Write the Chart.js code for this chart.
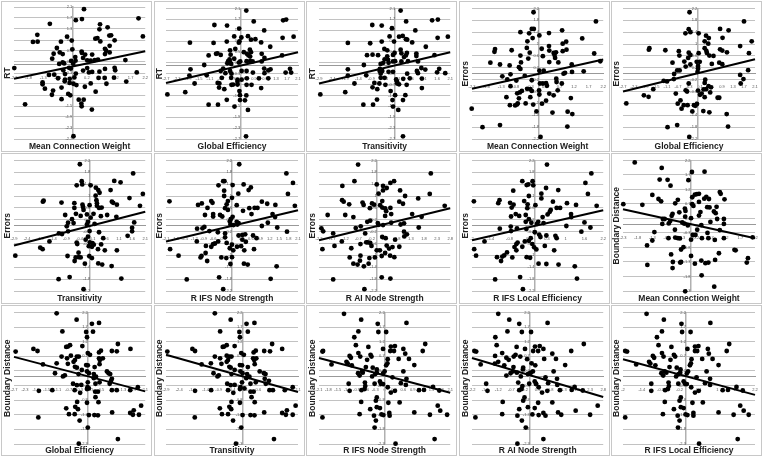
<!DOCTYPE html>
<html>
<head>
<meta charset="utf-8">
<script src="https://cdn.jsdelivr.net/npm/chart.js@4"></script>
<style>
html, body { margin: 0; background: #fff; }
#page { position: relative; width: 765px; height: 460px; overflow: hidden; }
.panel { position: absolute; box-sizing: border-box; width: 151px; height: 151px; border: 1px solid #c8c8c8; }
</style>
</head>
<body>
<div id="page"></div>
<script>
// tick ranges: [min, max, step]
const xMeanWeight = [-2.3, 2.2, 0.5];
const xGlobalEff = [-2.7, 2.1, 0.4];
const xTransitivity = [-2.9, 2.1, 0.5];
const xIfsNode = [-2.1, 2.1, 0.3];
const xAiNode = [-2.2, 2.8, 0.5];
const xIfsLocal = [-2, 2.2, 0.6];
const yRT = [-2.7, 2.1, 0.4];
const yErrors = [-2.2, 2.2, 0.4];
const yBoundary = [-2.3, 2.2, 0.5];

// trend lines: [y at left edge, y at right edge]
const trendRT = [[-0.51, 0.49], [-0.64, 0.49], [-0.66, 0.49]];
const trendErrors = [[-0.51, 0.48], [-0.6, 0.49], [-0.67, 0.47], [-0.53, 0.52], [-0.49, 0.59], [-0.49, 0.52]];
const trendBoundary = [[0.52, -0.48], [0.68, -0.5], [0.75, -0.52], [0.64, -0.55], [0.64, -0.69], [0.6, -0.62]];

const rtMeanWeight = [[.1,2.02],[.03,1.66],[-.18,1.62],[1.97,1.69],[-1.07,1.49],[.65,1.47],[.91,1.36],[.63,1.29],[-1.5,1.09],[-1.65,.83],[-1.49,.84],[2.12,1.03],[-.48,1.02],[.97,1.06],[1.03,1.07],[.49,.95],[.56,.97],[.66,.85],[1.15,.89],[-.69,.84],[-.32,.88],[.98,.69],[-.83,.61],[-.3,.56],[.82,.58],[.86,.51],[-.73,.45],[-.63,.39],[-.94,.4],[.02,.48],[.03,.43],[.14,.37],[.38,.37],[.82,.39],[.98,.45],[-.99,.22],[-.2,.28],[.07,.25],[.21,.16],[.33,.15],[-.34,.14],[-.19,.15],[.47,.17],[.58,.19],[1.52,.17],[-.75,.03],[-.63,.09],[-.58,.05],[-.27,.04],[-2.29,-.12],[-.41,-.11],[-.35,-.14],[-.61,-.2],[.21,-.12],[.07,-.21],[.27,-.28],[.38,-.26],[.63,-.25],[.82,-.15],[1.15,-.11],[1.17,-.2],[1.91,-.28],[-1.1,-.37],[-.92,-.36],[-.55,-.34],[-.18,-.32],[-.79,-.49],[-.55,-.54],[-.39,-.51],[-.23,-.46],[.6,-.48],[.81,-.48],[1.13,-.47],[-1.32,-.64],[-.56,-.6],[-.39,-.66],[-.26,-.69],[-.16,-.74],[.33,-.68],[.13,-.8],[.87,-.69],[1.55,-.61],[-1.32,-.71],[-1.24,-.87],[-.67,-.83],[-.96,-.94],[-1,-1.09],[.5,-.98],[-.44,-1.06],[-.37,-1.11],[-.67,-1.25],[-.08,-1.27],[.09,-1.27],[-1.92,-1.44],[.01,-1.41],[.02,-1.51],[.37,-1.63],[-.26,-2.6]];
const rtGlobalEff = [[.22,2.02],[1.56,1.66],[1.67,1.69],[.49,1.62],[-.94,1.49],[-.48,1.47],[-.04,1.36],[.87,1.29],[-1.83,.84],[-.97,.83],[-.49,.88],[-.22,1.07],[.28,1.08],[.04,1.03],[1.54,1.02],[1.94,1.06],[.39,.95],[.55,.97],[-.03,.89],[-.05,.84],[.76,.85],[1.09,.69],[-.18,.61],[-.37,.56],[.35,.58],[.13,.49],[.39,.49],[-.88,.43],[-.83,.45],[-1.15,.37],[-.71,.39],[-.35,.4],[.24,.43],[.3,.37],[.36,.33],[.78,.43],[1.52,.37],[-.39,.23],[-.22,.25],[.88,.28],[-.44,.16],[-.38,.15],[0,.15],[.23,.16],[.36,.16],[.45,.15],[.78,.15],[-.47,.08],[-.33,.06],[-1.31,.02],[-.05,.11],[-.62,-.11],[-1.81,-.14],[-.71,-.2],[-.54,-.28],[-.37,-.2],[-.32,-.3],[.05,-.2],[.23,-.2],[.87,-.11],[1.1,-.14],[1.02,-.18],[.88,-.28],[1.81,-.12],[1.65,-.26],[1.85,-.26],[-1.85,-.37],[-1.22,-.36],[-.67,-.45],[-.33,-.45],[.24,-.47],[.46,-.26],[.68,-.47],[1.02,-.47],[-.82,-.64],[-.76,-.66],[-1.66,-.66],[-.32,-.71],[-.26,-.7],[-.1,-.52],[-.1,-.6],[.05,-.52],[-.77,-.81],[-.58,-.87],[-.1,-.7],[.23,-.71],[.41,-.71],[.76,-.83],[-2,-.98],[-2.65,-1.06],[-.03,-.94],[-.01,-1.09],[.22,-1.1],[-.49,-1.26],[-.01,-1.27],[.17,-1.28],[-1.15,-1.44],[-.81,-1.44],[-.21,-1.51],[.28,-1.63],[.21,-2.6]];
const rtTransitivity = [[.21,2.02],[1.41,1.66],[1.63,1.69],[.42,1.62],[-.87,1.49],[-.51,1.47],[-.12,1.37],[.77,1.29],[-1.8,.83],[-.95,.82],[-.51,.88],[-.21,1.07],[.15,1.06],[.29,1.09],[1.62,1.02],[2.01,1.06],[.41,.97],[-.04,.88],[.46,.95],[.65,.85],[1.17,.69],[-.41,.61],[-.3,.56],[.21,.58],[-1.07,.38],[-.86,.4],[-.65,.38],[-.08,.39],[-.02,.46],[.24,.45],[.45,.46],[.81,.44],[.81,.35],[.41,.37],[.34,.31],[1.5,.38],[-.3,.34],[-.4,.23],[-.27,.21],[-.25,.1],[-.45,.1],[-.55,.06],[-.08,.15],[0,.16],[.24,.15],[.49,.16],[.87,.15],[-1.19,.02],[-1.8,-.14],[-.58,-.12],[-.49,-.2],[-.59,-.2],[-.55,-.3],[.83,-.2],[1,-.09],[1.15,-.15],[.87,-.28],[1.68,-.12],[1.6,-.25],[1.91,-.28],[-1.8,-.37],[-1.1,-.36],[-.25,-.23],[-.08,-.23],[-.4,-.45],[-.55,-.45],[.46,-.3],[.56,-.47],[.31,-.49],[1.02,-.48],[.04,-.51],[.07,-.58],[.08,-.66],[.15,-.69],[.44,-.71],[-1.55,-.66],[-.79,-.64],[-.6,-.66],[-.37,-.71],[-.86,-.8],[-.68,-.87],[1.02,-.83],[-.17,-.94],[-1.9,-.98],[-2.85,-1.06],[0,-1.09],[.39,-1.09],[-.69,-1.25],[-.1,-1.27],[.3,-1.27],[-1.21,-1.44],[-.84,-1.44],[-.08,-1.51],[.12,-1.63],[.3,-2.6]];
const errMeanWeight = [[-.19,2.07],[1.95,1.76],[-.64,1.4],[-.25,1.51],[-.18,1.51],[-.34,1.36],[.01,1.29],[.34,1.37],[.79,1.46],[-.22,1.2],[-.4,1.09],[1.48,1.19],[.93,1.08],[.81,1.01],[.34,.93],[-1.51,.83],[-1.53,.74],[-.94,.79],[.09,.84],[-.42,.87],[.35,.78],[.94,.81],[.81,.76],[-.32,.71],[.5,.7],[.58,.72],[1.89,.68],[-.64,.61],[.13,.59],[.53,.63],[-.37,.51],[.55,.53],[-1.67,.37],[-.62,.38],[-1.34,.31],[-1.01,.28],[.35,.39],[.66,.38],[1.12,.31],[2.1,.42],[-.69,.22],[-.64,.16],[.01,.1],[.16,.1],[1.53,.08],[.84,0],[.89,.03],[1.13,.06],[-1.26,-.09],[-.98,-.02],[-.49,-.07],[-1.09,-.19],[-.78,-.23],[-.25,-.22],[.59,-.17],[.6,-.28],[.03,-.33],[.13,-.33],[.24,-.32],[.27,-.41],[-.98,-.42],[.78,-.33],[0,-.56],[-.41,-.51],[-.3,-.52],[-.59,-.58],[-.75,-.66],[-.66,-.63],[-.25,-.58],[.64,-.56],[.35,-.67],[.01,-.7],[.5,-.73],[-1.12,-.79],[-.69,-.83],[-.3,-.79],[1.09,-.82],[.24,-.91],[-.73,-1],[-1,-1.06],[-.82,-1.07],[-.76,-1.04],[-.46,-1],[-.2,-1.04],[.1,-1.01],[-.09,-1.27],[.46,-1.31],[.98,-1.28],[1.14,-1.36],[-2.31,-1.18],[-1.94,-1.8],[-1.34,-1.73],[.97,-1.78],[.05,-2.13]];
const errGlobalEff = [[-.28,2.07],[1.7,1.76],[-.31,1.5],[-.43,1.36],[-.25,1.4],[.05,1.36],[.83,1.51],[1.14,1.46],[.32,1.28],[.42,1.2],[.92,1.21],[.27,1.09],[.4,1.01],[1.98,1.09],[1.56,.93],[-1.74,.86],[-1.76,.81],[-1.16,.79],[-.67,.76],[.27,.86],[.33,.77],[.83,.82],[.91,.78],[1.08,.72],[.05,.69],[-.31,.71],[-.25,.63],[-.65,.61],[.44,.61],[.59,.6],[.35,.7],[1.88,.69],[-.33,.53],[-.47,.41],[-.42,.24],[-.9,.37],[-.02,.4],[.09,.4],[-.25,.31],[.53,.33],[.8,.37],[.91,.32],[.03,.26],[-.73,.11],[-.64,.11],[-.84,-.01],[.03,.17],[.01,.06],[1.85,.12],[1.56,-.04],[-.85,-.18],[-1.22,-.24],[-1.1,-.26],[1.68,-.18],[1.58,-.33],[-1.6,-.52],[-.31,-.33],[.29,-.2],[.27,-.31],[.41,-.42],[.5,-.46],[-.42,-.56],[-.37,-.6],[.03,-.57],[.23,-.53],[.32,-.52],[.16,-.67],[.47,-.63],[-.78,-.67],[.1,-.71],[.27,-.79],[.74,-.81],[.8,-.81],[-1.94,-.73],[-1.77,-.78],[-2.58,-1],[-.61,-.9],[-.71,-1.01],[-.49,-1.06],[-.35,-1.06],[-.12,-1.06],[-.01,-1.02],[-.07,-1.08],[-.57,-1.18],[-.18,-1.27],[.22,-1.26],[.44,-1.3],[1.07,-1.36],[-1.08,-1.8],[-.73,-1.73],[1.12,-1.78],[-.29,-2.13]];
const errTransitivity = [[-.39,2.07],[1.64,1.76],[-.32,1.5],[-.51,1.36],[-.3,1.39],[.02,1.36],[.92,1.51],[1.16,1.46],[.22,1.28],[.31,1.2],[.36,1.11],[.78,1.2],[.21,1.01],[2.01,1.07],[1.5,.93],[-1.77,.84],[-1.8,.81],[-1.09,.78],[-.6,.76],[.24,.86],[.26,.76],[.83,.81],[.88,.77],[1.02,.71],[-.02,.69],[-.29,.71],[-.27,.63],[-.6,.6],[.34,.6],[.44,.61],[.26,.67],[1.9,.67],[-.25,.53],[-.54,.4],[-.36,.33],[-.95,.36],[-.12,.38],[.13,.4],[.41,.32],[.65,.36],[1,.3],[.02,.27],[-.69,.22],[-.84,.1],[-.63,.09],[-.89,-.02],[-.08,.13],[-.12,.04],[.17,.06],[1.68,.11],[1.6,-.07],[-1.19,-.26],[-1.07,-.28],[-.84,-.19],[-1.55,-.53],[1.6,-.19],[1.43,-.34],[-.02,-.18],[-.08,-.37],[-.17,-.47],[.34,-.22],[.5,-.42],[-.51,-.57],[-.49,-.62],[-.01,-.56],[.09,-.59],[-.05,-.69],[.07,-.71],[.3,-.79],[.56,-.83],[1.02,-.83],[.42,-.63],[.14,-.64],[-1.9,-.74],[-1.81,-.79],[-2.85,-1.01],[-.44,-.91],[-.86,-1.02],[-.55,-1.07],[-.43,-1.06],[-.36,-1.07],[-.03,-1.03],[.07,-1.09],[-.59,-1.19],[-.2,-1.28],[.31,-1.27],[.46,-1.31],[.82,-1.36],[-1.2,-1.8],[-.78,-1.73],[1.19,-1.78],[-.25,-2.14]];
const errIfsNode = [[.23,2.07],[1.73,1.76],[1.94,1.44],[-.28,1.5],[-.24,1.5],[-.43,1.36],[.02,1.37],[.37,1.39],[.6,1.29],[.53,1.2],[-.25,1.18],[.2,1.08],[1.78,1.07],[-.25,1],[0,.94],[-1.99,.82],[-1.08,.7],[-.96,.75],[-.66,.83],[-.62,.77],[-.13,.83],[-.17,.72],[-.22,.59],[.15,.69],[.95,.81],[1.12,.74],[1.38,.7],[2,.67],[-.78,.6],[.55,.59],[.72,.6],[.81,.6],[.35,.5],[-.13,.53],[-.86,.36],[-.6,.39],[-.6,.31],[-.38,.36],[-.31,.31],[.02,.3],[-.04,.22],[.62,.39],[1.29,.39],[1.37,.29],[-.07,.14],[-.05,.04],[.15,.13],[.21,.09],[1.14,.1],[.95,-.01],[-.88,-.04],[-.94,-.09],[-1.11,-.1],[.05,.02],[.17,.04],[1.44,-.06],[1.75,-.2],[-.72,-.18],[-.45,-.22],[-.22,-.26],[-.22,-.39],[.21,-.33],[.33,-.31],[.42,-.29],[.33,-.47],[.67,-.33],[.78,-.42],[-1.12,-.53],[-.44,-.53],[-.54,-.6],[-.6,-.62],[-.83,-.68],[-.66,-.71],[.44,-.54],[-.17,-.58],[0,-.64],[.16,-.71],[.29,-.69],[-.07,-.76],[.04,-.83],[.39,-.83],[.7,-.79],[-1.97,-.79],[-1.7,-1.01],[-.84,-.92],[-.97,-1.02],[-1,-1.07],[-.79,-1.19],[-.34,-1.07],[-.18,-1.09],[0,-1.06],[-.05,-1.29],[.38,-1.28],[.5,-1.31],[1.42,-1.37],[-1.44,-1.81],[-.41,-1.74],[1.23,-1.79],[-.28,-2.14]];
const errAiNode = [[-.71,2.06],[2.06,1.76],[-.85,1.5],[-1.31,1.34],[0,1.39],[.24,1.34],[.52,1.44],[.66,1.5],[.38,1.27],[.24,1.19],[.07,1.08],[.89,1.19],[1.08,1],[2.02,1.07],[1.58,.92],[-1.32,.86],[-1.26,.81],[-1.05,.72],[-.54,.78],[-.5,.7],[-.18,.75],[-.1,.71],[.21,.83],[.86,.81],[1,.74],[2.59,.67],[-.26,.59],[.13,.69],[.21,.61],[.32,.58],[.52,.6],[.36,.49],[-1.87,.36],[-1.2,.36],[-.89,.29],[.32,.33],[.55,.39],[1.35,.39],[1.71,.3],[-.36,.13],[-.25,.17],[-.61,-.02],[-.8,-.08],[.04,.09],[.07,.03],[.24,.02],[.55,.1],[.91,.04],[1.04,.08],[1.6,-.06],[-2.11,-.09],[-2.04,-.19],[-1.66,-.26],[-.44,-.26],[1.04,-.2],[1.05,-.36],[1.15,-.29],[.21,-.38],[.34,-.42],[.7,-.47],[-1.33,-.53],[-1.61,-.68],[-2.07,-.79],[-.97,-.76],[-.62,-.62],[-.4,-.56],[-.34,-.56],[-.25,-.58],[-.2,-.68],[.38,-.67],[.6,-.72],[.47,-.77],[.86,-.71],[0,-.83],[.12,-.83],[.32,-.92],[-.62,-1.01],[-.28,-1.09],[-.07,-1.07],[.19,-1.02],[.51,-1.01],[.67,-1.06],[-1.03,-1.07],[-.64,-1.18],[-.89,-1.28],[-.73,-1.31],[-.49,-1.37],[-.31,-1.28],[-1.66,-1.81],[.19,-1.74],[.52,-1.78],[-.47,-2.14]];
const errIfsLocal = [[.4,2.06],[1.82,1.76],[1.63,1.44],[-.39,1.5],[-.06,1.5],[-.25,1.37],[-.2,1.39],[-.04,1.36],[.37,1.27],[.76,1.2],[-.68,1.18],[.22,1.08],[1.71,1.07],[-.18,1],[.22,.92],[-1.94,.82],[-1.12,.86],[-1.16,.76],[-.78,.77],[-.67,.71],[-.73,.61],[-.33,.83],[-.22,.72],[-.23,.59],[.03,.69],[.59,.81],[1.04,.76],[1.33,.7],[1.99,.67],[.71,.6],[.82,.6],[.52,.53],[.49,.47],[-.28,.36],[-.6,.39],[-.75,.31],[-.49,.33],[.42,.38],[.26,.29],[1.17,.39],[1.18,.29],[-.18,.22],[-.28,.13],[-.1,.1],[.12,.13],[.29,.09],[.08,.06],[1.6,.11],[1.02,-.01],[-.76,-.03],[-.56,-.09],[-1.11,-.1],[-.75,-.18],[-.26,-.11],[1.5,-.2],[1.79,-.06],[.01,-.22],[.15,-.3],[.19,-.38],[.38,-.33],[.67,-.34],[.71,-.42],[-1.6,-.53],[-1.93,-.79],[-1.87,-1.01],[-.54,-.57],[-.58,-.62],[-.64,-.72],[-.58,-.83],[-.39,-.71],[-.31,-.53],[-.18,-.51],[-.12,-.42],[-.07,-.62],[-.01,-.73],[.06,-.8],[.33,-.68],[.63,-.83],[-.88,-.9],[-.97,-1],[-1.03,-1.04],[-1.2,-1.06],[-1.07,-1.19],[-.71,-1.07],[-.25,-1.06],[-.14,-1.08],[.13,-1.28],[.38,-1.29],[.77,-1.31],[1.29,-1.37],[-1.26,-1.81],[-.46,-1.73],[1.36,-1.78],[-.37,-2.14]];
const bdMeanWeight = [[-1.9,2.13],[-.98,1.94],[.05,1.8],[.48,1.81],[-1.05,1.54],[-.78,1.53],[-.07,1.52],[-.68,1.33],[-1.3,1.01],[-1.09,.87],[-1,.79],[-.52,.72],[-.43,.84],[.22,1.04],[.29,1.05],[.15,1.02],[.47,.88],[.54,.94],[.63,.87],[1,1.11],[1.03,1.05],[1.16,.86],[.06,.93],[.29,.77],[.06,.69],[.1,.63],[-2.29,.69],[-1.64,.67],[-.19,.54],[-.17,.46],[.57,.59],[.65,.58],[.89,.6],[.34,.42],[.29,.3],[.8,.44],[.86,.38],[-.61,.36],[-.64,.29],[-.38,.41],[-.18,.26],[.02,.21],[.91,.18],[1.14,.18],[-.94,.18],[-.88,.18],[-.69,.11],[-.74,.03],[-.96,.01],[-.28,.06],[-.21,.02],[-.09,-.04],[.37,-.03],[.68,.08],[1.14,.01],[-.53,-.19],[-1.23,-.27],[.23,-.19],[.08,-.37],[.17,-.37],[.58,-.3],[1,-.2],[-.75,-.48],[-.52,-.46],[-.43,-.48],[-.36,-.49],[.02,-.53],[.39,-.48],[.61,-.48],[.83,-.54],[1.14,-.48],[2.12,-.45],[-1.3,-.56],[-1.48,-.73],[-.32,-.87],[-.24,-.79],[1.5,-.88],[1.54,-.9],[-.66,-1.04],[.02,-1.09],[.97,-1],[-.6,-1.3],[-.35,-1.32],[-.32,-1.3],[.15,-1.36],[.37,-1.25],[.51,-1.34],[.61,-1.32],[.84,-1.23],[1.92,-1.32],[1.96,-1.17],[-1.47,-1.4],[-.61,-1.51],[.38,-1.76],[.81,-2.15],[-.18,-2.31]];
const bdGlobalEff = [[-1.14,2.17],[-.41,1.95],[.15,1.81],[.41,1.84],[-.93,1.55],[-.06,1.53],[.19,1.54],[-.03,1.35],[-.79,1.02],[-.73,1.03],[-.65,1.08],[-.2,1.05],[1.1,1.12],[-1.99,.95],[-1.84,.88],[-2.64,.86],[.48,.89],[.41,.83],[.88,.88],[1.06,.87],[1.56,.95],[0,.81],[.08,.75],[-.96,.69],[-.33,.69],[-.76,.63],[-.62,.72],[-.4,.69],[.41,.63],[.55,.63],[-.47,.57],[-.52,.51],[.44,.57],[-.73,.44],[-1.64,.42],[-1.14,.46],[-.47,.34],[-.4,.31],[-.06,.4],[0,.39],[.43,.43],[.25,.33],[-.22,.23],[-1.2,.12],[-.03,.18],[.04,.12],[-.34,.09],[-.84,.05],[-.91,.01],[.22,.09],[.3,0],[.7,.18],[.76,.12],[.82,.09],[.22,-.05],[.88,-.07],[.85,-.14],[0,-.19],[-.54,-.24],[-.4,-.29],[-.24,-.28],[.28,-.24],[.43,-.19],[.8,-.24],[-.01,-.36],[.04,-.4],[-.48,-.46],[-1.79,-.48],[-1.3,-.46],[-.28,-.55],[-.03,-.42],[.27,-.51],[.37,-.51],[.88,-.46],[1.06,-.46],[1.55,-.46],[1.83,-.36],[.28,-.7],[.39,-.87],[-.39,-.86],[-.03,-.89],[-.46,-1.03],[-.79,-1.08],[-.36,-1.11],[1.95,-.99],[-.69,-1.28],[-.48,-1.28],[.04,-1.31],[.24,-1.31],[.37,-1.32],[.89,-1.22],[1.55,-1.24],[1.65,-1.3],[1.68,-1.15],[1.87,-1.3],[-1.81,-1.39],[-.3,-1.5],[0,-1.74],[1.1,-2.13],[-.33,-2.29]];
const bdTransitivity = [[-1.05,2.17],[-.45,1.95],[.15,1.81],[.45,1.84],[-.85,1.55],[-.12,1.53],[.2,1.54],[-.1,1.35],[-.75,1.02],[-.7,1.03],[-.6,1.08],[-.3,1.05],[1.12,1.12],[-1.9,.95],[-1.8,.88],[-2.85,.86],[.5,.89],[.42,.83],[.82,.88],[1.04,.87],[1.5,.95],[-.05,.81],[.05,.75],[-1.05,.69],[-.42,.69],[-.85,.63],[-.6,.72],[-.5,.69],[.4,.63],[.52,.63],[-.55,.57],[-.6,.51],[.44,.57],[-.8,.44],[-1.55,.42],[-1.2,.46],[-.5,.34],[-.45,.31],[-.1,.4],[-.02,.39],[.46,.43],[.2,.33],[-.3,.23],[-1.1,.12],[-.08,.18],[0,.12],[-.42,.09],[-.9,.05],[-.95,.01],[.17,.09],[.26,0],[.65,.18],[.81,.12],[.87,.09],[.14,-.05],[.84,-.07],[1,-.14],[-.02,-.19],[-.58,-.24],[-.45,-.29],[-.3,-.28],[.3,-.24],[.5,-.19],[.88,-.24],[-.08,-.36],[.07,-.4],[-.55,-.46],[-1.8,-.48],[-1.19,-.46],[-.35,-.55],[-.1,-.42],[.3,-.51],[.42,-.51],[1.02,-.46],[1.15,-.46],[1.6,-.46],[1.9,-.36],[.34,-.7],[.46,-.87],[-.42,-.86],[-.1,-.89],[-.5,-1.03],[-.86,-1.08],[-.43,-1.11],[2.01,-.99],[-.78,-1.28],[-.55,-1.28],[0,-1.31],[.3,-1.31],[.45,-1.32],[.82,-1.22],[1.5,-1.24],[1.64,-1.3],[1.68,-1.15],[1.9,-1.3],[-1.81,-1.39],[-.36,-1.5],[-.05,-1.74],[1.19,-2.13],[-.25,-2.29]];
const bdIfsNode = [[-1.3,2.15],[-.75,1.95],[-.22,1.81],[.7,1.84],[-.84,1.55],[-.2,1.53],[.05,1.53],[-.97,1.35],[-.92,1.08],[-.52,1.02],[-1.97,.88],[-1.99,.86],[-.84,.81],[-.05,.95],[.2,1.03],[.33,1.05],[.18,.88],[.3,.88],[1.3,1.12],[1.22,.88],[.6,.95],[.66,.79],[-1.12,.71],[-1.08,.65],[-.78,.69],[-.45,.75],[-.42,.69],[-.56,.58],[.1,.6],[.45,.61],[.78,.61],[-1.22,.51],[-1.18,.45],[-1.7,.42],[.09,.46],[.05,.39],[-1.05,.39],[-.6,.33],[-.38,.31],[.95,.4],[-.25,.25],[-.85,.12],[-.72,.18],[-.7,.14],[0,.18],[-.05,.11],[.6,.18],[-.8,.04],[-.3,.09],[-.25,.14],[-.4,.01],[.25,-.02],[.7,-.07],[-.15,-.16],[-.12,-.24],[-.05,-.25],[-1.15,-.24],[-.63,-.2],[-.62,-.32],[-.32,-.24],[.52,-.22],[.68,-.28],[1.55,-.35],[-1.12,-.48],[-.74,-.46],[-.64,-.42],[.1,-.36],[.2,-.54],[.33,-.48],[1.1,-.46],[1.26,-.45],[1.75,-.47],[-.25,-.71],[-.28,-.82],[-.75,-.86],[.12,-.89],[.48,-.88],[1.7,-.99],[-.46,-1.11],[-.25,-1.04],[-.15,-1.07],[-.8,-1.28],[-.34,-1.33],[-.1,-1.29],[-.04,-1.31],[.15,-1.24],[.16,-1.33],[.95,-1.22],[1.45,-1.3],[1.78,-1.16],[2,-1.3],[-1.99,-1.39],[-.28,-1.5],[-.32,-1.74],[1.6,-2.13],[.35,-2.29]];
const bdAiNode = [[-1.2,2.15],[-.78,1.95],[-.4,1.81],[.68,1.84],[-.85,1.55],[-.3,1.53],[.05,1.53],[-1.31,1.35],[-1.26,1.08],[-.5,1.02],[-2.11,.88],[-2.04,.86],[-1.05,.81],[-.18,.95],[.2,1.03],[.38,1.05],[.13,.88],[.32,.88],[2.06,1.12],[1.58,.88],[.52,.95],[.86,.79],[-1.32,.71],[-.89,.65],[-.61,.69],[-.54,.75],[-.36,.69],[-.8,.58],[-.1,.6],[.55,.61],[1,.61],[-1.2,.51],[-1.33,.45],[-1.87,.42],[.07,.46],[.21,.39],[-.97,.39],[-.62,.33],[-.25,.31],[1.35,.4],[-.26,.25],[-.73,.12],[-.64,.18],[-.49,.14],[.12,.18],[0,.11],[.91,.18],[-.89,.04],[-.07,.09],[.04,.14],[-.34,.01],[.6,-.02],[1.04,-.07],[.19,-.16],[.24,-.24],[.24,-.25],[-1.66,-.24],[-.44,-.2],[-.28,-.32],[-.02,-.24],[.7,-.22],[1.05,-.28],[1.71,-.35],[-1.61,-.48],[-.4,-.46],[-.31,-.42],[.34,-.36],[.47,-.54],[.67,-.48],[1.15,-.46],[1.6,-.45],[2.02,-.47],[-.2,-.71],[-.25,-.82],[-1.03,-.86],[.32,-.89],[.86,-.88],[2.59,-.99],[-.4,-1.11],[-.07,-1.04],[.19,-1.07],[-1.05,-1.28],[-.47,-1.33],[.1,-1.29],[.34,-1.31],[.52,-1.24],[.6,-1.33],[1.08,-1.22],[1.2,-1.3],[1.75,-1.16],[2.3,-1.3],[-2.07,-1.39],[-.3,-1.5],[-.15,-1.74],[.52,-2.13],[-.47,-2.29]];
const bdIfsLocal = [[-1.25,2.15],[-.7,1.95],[-.14,1.81],[.78,1.84],[-.76,1.55],[-.12,1.53],[.15,1.53],[-.92,1.35],[-.87,1.08],[-.46,1.02],[-1.93,.88],[-1.87,.86],[-.76,.81],[.05,.95],[.29,1.03],[.4,1.05],[.29,.88],[.36,.88],[1.38,1.12],[1.3,.88],[.7,.95],[.73,.79],[-1.05,.71],[-1.01,.65],[-.71,.69],[-.38,.75],[-.34,.69],[-.49,.58],[.18,.6],[.52,.61],[.85,.61],[-1.17,.51],[-1.13,.45],[-1.58,.42],[.16,.46],[.13,.39],[-.97,.39],[-.52,.33],[-.29,.31],[1.04,.4],[-.17,.25],[-.78,.12],[-.67,.18],[-.62,.14],[.07,.18],[.03,.11],[.66,.18],[-.72,.04],[-.23,.09],[-.18,.14],[-.31,.01],[.34,-.02],[.77,-.07],[-.07,-.16],[-.03,-.24],[.03,-.25],[-1.1,-.24],[-.55,-.2],[-.54,-.32],[-.24,-.24],[.61,-.22],[.77,-.28],[1.61,-.35],[-1.1,-.48],[-.66,-.46],[-.57,-.42],[.17,-.36],[.29,-.54],[.41,-.48],[1.17,-.46],[1.34,-.45],[1.81,-.47],[-.16,-.71],[-.2,-.82],[-.67,-.86],[.21,-.89],[.54,-.88],[1.73,-.99],[-.38,-1.11],[-.16,-1.04],[-.07,-1.07],[-.73,-1.28],[-.26,-1.33],[-.01,-1.29],[.05,-1.31],[.24,-1.24],[.24,-1.33],[1.04,-1.22],[1.52,-1.3],[1.84,-1.16],[2,-1.3],[-1.93,-1.39],[-.2,-1.5],[-.25,-1.74],[1.65,-2.13],[.42,-2.29]];

const panels = [
  { pts: rtMeanWeight, x: xMeanWeight, y: yRT, xt: 'Mean Connection Weight', yt: 'RT', trend: trendRT[0], cross: -0.3 },
  { pts: rtGlobalEff, x: xGlobalEff, y: yRT, xt: 'Global Efficiency', yt: 'RT', trend: trendRT[1] },
  { pts: rtTransitivity, x: xTransitivity, y: yRT, xt: 'Transitivity', yt: 'RT', trend: trendRT[2] },
  { pts: errMeanWeight, x: xMeanWeight, y: yErrors, xt: 'Mean Connection Weight', yt: 'Errors', trend: trendErrors[0] },
  { pts: errGlobalEff, x: xGlobalEff, y: yErrors, xt: 'Global Efficiency', yt: 'Errors', trend: trendErrors[1] },
  { pts: errTransitivity, x: xTransitivity, y: yErrors, xt: 'Transitivity', yt: 'Errors', trend: trendErrors[2] },
  { pts: errIfsNode, x: xIfsNode, y: yErrors, xt: 'R IFS Node Strength', yt: 'Errors', trend: trendErrors[3] },
  { pts: errAiNode, x: xAiNode, y: yErrors, xt: 'R AI Node Strength', yt: 'Errors', trend: trendErrors[4] },
  { pts: errIfsLocal, x: xIfsLocal, y: yErrors, xt: 'R IFS Local Efficiency', yt: 'Errors', trend: trendErrors[5] },
  { pts: bdMeanWeight, x: xMeanWeight, y: yBoundary, xt: 'Mean Connection Weight', yt: 'Boundary Distance', trend: trendBoundary[0] },
  { pts: bdGlobalEff, x: xGlobalEff, y: yBoundary, xt: 'Global Efficiency', yt: 'Boundary Distance', trend: trendBoundary[1] },
  { pts: bdTransitivity, x: xTransitivity, y: yBoundary, xt: 'Transitivity', yt: 'Boundary Distance', trend: trendBoundary[2] },
  { pts: bdIfsNode, x: xIfsNode, y: yBoundary, xt: 'R IFS Node Strength', yt: 'Boundary Distance', trend: trendBoundary[3] },
  { pts: bdAiNode, x: xAiNode, y: yBoundary, xt: 'R AI Node Strength', yt: 'Boundary Distance', trend: trendBoundary[4] },
  { pts: bdIfsLocal, x: xIfsLocal, y: yBoundary, xt: 'R IFS Local Efficiency', yt: 'Boundary Distance', trend: trendBoundary[5] }
];

const colLeft = [1, 154, 306, 459, 611];
const rowTop = [1, 153, 305];
const plotInsetX = [12, 11, 12, 12, 11];
const plotInsetY = [5, 5, 6];
const labelFont = { family: '"Liberation Sans", Arial, sans-serif', size: 8.5, weight: 'bold', lineHeight: 1 };
const tickFont = { family: '"Liberation Sans", Arial, sans-serif', size: 4 };
const fmt = v => String(Number(v.toFixed(1)));

function axis(r, extra) {
  return Object.assign({
    type: 'linear', min: r[0], max: r[1],
    ticks: { stepSize: r[2], font: tickFont, color: '#555', padding: 2, autoSkip: false, maxRotation: 0, callback: fmt }
  }, extra);
}

panels.forEach((p, i) => {
  const col = i % 5, row = Math.floor(i / 5);
  const div = document.createElement('div');
  div.className = 'panel';
  div.style.left = colLeft[col] + 'px';
  div.style.top = rowTop[row] + 'px';
  const cv = document.createElement('canvas');
  cv.width = 149; cv.height = 149;
  cv.style.display = 'block';
  div.appendChild(cv);
  document.getElementById('page').appendChild(div);

  const ox = plotInsetX[col], oy = plotInsetY[row];
  const xScale = axis(p.x, { position: { y: 0 }, grid: { display: false }, border: { color: '#999', width: 1 } });
  xScale.ticks.padding = 3;
  const yScale = axis(p.y, {
    position: { x: p.cross === undefined ? 0 : p.cross },
    grid: { color: '#c2c2c2', lineWidth: 1, drawTicks: false },
    border: { color: '#b0b0b0', width: 1.5 }
  });
  yScale.ticks.padding = 4;
  if (p.cross !== undefined) { yScale.ticks.mirror = true; yScale.ticks.padding = 0; }

  new Chart(cv, {
    type: 'scatter',
    data: {
      datasets: [
        { data: [{ x: p.x[0], y: p.trend[0] }, { x: p.x[1], y: p.trend[1] }], showLine: true, borderColor: '#000', borderWidth: 2, pointRadius: 0, clip: false },
        { data: p.pts.map(d => ({ x: d[0], y: d[1] })), backgroundColor: '#000', borderColor: '#000', pointRadius: 2.4, pointBorderWidth: 0, clip: false }
      ]
    },
    options: {
      responsive: false,
      animation: false,
      events: [],
      layout: { padding: { left: ox - 10.5, top: oy, right: 149 - 132 - ox, bottom: 0 } },
      scales: { x: xScale, y: yScale },
      plugins: {
        legend: { display: false },
        tooltip: { enabled: false },
        title: { display: true, fullSize: false, position: 'bottom', text: p.xt, color: '#222', font: labelFont, padding: { top: 144 - 132 - oy - 8.5 + 5, bottom: 0 } },
        subtitle: { display: true, fullSize: false, position: 'left', text: p.yt, color: '#222', font: labelFont, padding: { top: 0, bottom: 2 } }
      }
    }
  });
});
</script>
</body>
</html>
